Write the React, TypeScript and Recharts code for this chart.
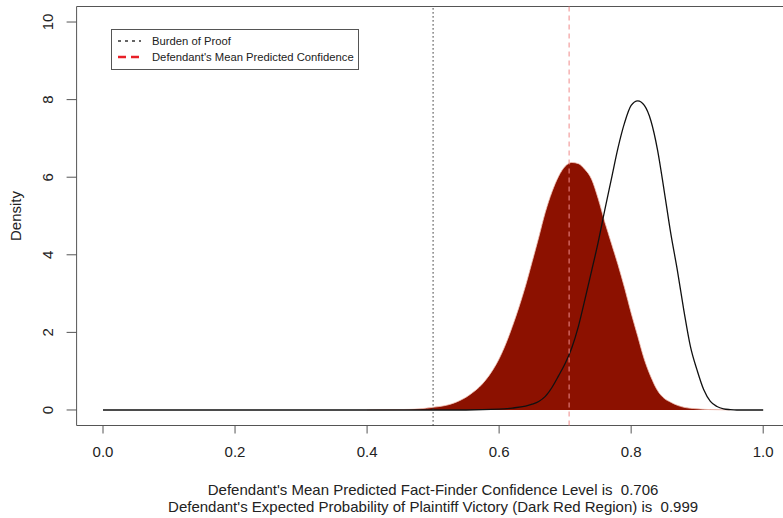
import { ComposedChart, Area, Line, XAxis, YAxis, ReferenceLine, ReferenceArea } from 'recharts'

// tick values
const xTicks = [0, 0.2, 0.4, 0.6, 0.8, 1.0]
const yTicks = [0, 2, 4, 6, 8, 10]

// black outline curve
const blackX = [
  0, 0.55, 0.6, 0.62, 0.64, 0.65, 0.66, 0.67, 0.68, 0.69, 0.7, 0.71, 0.72, 0.73, 0.74, 0.75, 0.76, 0.77, 0.78,
  0.79, 0.8, 0.81, 0.82, 0.83, 0.84, 0.85, 0.86, 0.87, 0.88, 0.89, 0.9, 0.91, 0.92, 0.93, 0.94, 0.95, 0.96, 1.0,
]
const blackY = [
  0, 0, 0.02, 0.05, 0.1, 0.15, 0.22, 0.35, 0.58, 0.88, 1.2, 1.6, 2.15, 2.85, 3.58, 4.32, 5.15, 5.95, 6.75,
  7.4, 7.85, 7.97, 7.85, 7.45, 6.7, 5.65, 4.55, 3.6, 2.55, 1.62, 1.02, 0.52, 0.22, 0.09, 0.03, 0.01, 0, 0,
]

// dark red filled density
const redX = [
  0.4, 0.45, 0.48, 0.5, 0.52, 0.53, 0.54, 0.55, 0.56, 0.57, 0.58, 0.59, 0.6, 0.61, 0.62, 0.63, 0.64, 0.65,
  0.66, 0.67, 0.68, 0.69, 0.7, 0.71, 0.72, 0.73, 0.74, 0.75, 0.76, 0.77, 0.78, 0.79, 0.8, 0.81, 0.82, 0.83,
  0.84, 0.85, 0.86, 0.87, 0.88, 0.9, 0.92, 0.95,
]
const redY = [
  0, 0.01, 0.03, 0.07, 0.12, 0.17, 0.24, 0.33, 0.45, 0.59, 0.78, 1.02, 1.32, 1.7, 2.15, 2.65, 3.2, 3.82,
  4.45, 5.1, 5.62, 6.02, 6.28, 6.38, 6.35, 6.2, 5.95, 5.45, 4.85, 4.3, 3.75, 3.15, 2.5, 1.9, 1.3, 0.85,
  0.5, 0.3, 0.2, 0.12, 0.07, 0.03, 0.01, 0,
]

const burdenOfProof = 0.5
const meanConfidence = 0.706
const plaintiffWinProb = 0.999

const blackData = blackX.map((x, i) => ({ x, y: blackY[i] }))
const redData = redX.map((x, i) => ({ x, y: redY[i] }))

const FONT = '"Liberation Sans", Arial, Helvetica, sans-serif'
const INK = '#222'
const FRAME = '#555'

const XTick = ({ x, y, payload }: any) => (
  <text x={x} y={y + 16.5} dy="0.35em" textAnchor="middle" fontSize={15} fill={INK} fontFamily={FONT}>
    {Number(payload.value).toFixed(1)}
  </text>
)

const YTick = ({ x, y, payload }: any) => (
  <text
    transform={`translate(${x - 16.6},${y}) rotate(-90)`}
    dy="0.35em"
    textAnchor="middle"
    fontSize={15}
    fill={INK}
    fontFamily={FONT}
  >
    {payload.value}
  </text>
)

const BottomText = (props: any) => {
  const vb = props.viewBox || {}
  const cx = vb.width ? vb.x + vb.width / 2 : 433
  return (
    <g fontSize={15} fill={INK} fontFamily={FONT} textAnchor="middle" style={{ whiteSpace: 'pre' }}>
      <text x={cx} y={490} dy="0.35em" xmlSpace="preserve">
        {`Defendant's Mean Predicted Fact-Finder Confidence Level is  ${meanConfidence.toFixed(3)}`}
      </text>
      <text x={cx} y={507} dy="0.35em" xmlSpace="preserve">
        {`Defendant's Expected Probability of Plaintiff Victory (Dark Red Region) is  ${plaintiffWinProb.toFixed(3)}`}
      </text>
    </g>
  )
}

const DensityLabel = () => (
  <text
    transform="translate(16,216) rotate(-90)"
    dy="0.35em"
    textAnchor="middle"
    fontSize={15}
    fill={INK}
    fontFamily={FONT}
  >
    Density
  </text>
)

function LegendBox() {
  return (
    <svg
      width={783}
      height={518}
      style={{ position: 'absolute', left: 0, top: 0, pointerEvents: 'none' }}
    >
      <rect x={111.5} y={29.5} width={247} height={40} fill="#fff" stroke={FRAME} strokeWidth={1} />
      <line x1={118} x2={141} y1={41} y2={41} stroke="#333" strokeWidth={1.5} strokeDasharray="3 4" />
      <line x1={118} x2={141} y1={57} y2={57} stroke="#e82028" strokeWidth={2.5} strokeDasharray="8 5" />
      <g fontSize={11.25} fill={INK} fontFamily={FONT}>
        <text x={152} y={41} dy="0.35em">Burden of Proof</text>
        <text x={152} y={57} dy="0.35em">Defendant's Mean Predicted Confidence</text>
      </g>
    </svg>
  )
}

export default function App() {
  return (
    <div
      style={{
        position: 'absolute',
        left: 0,
        top: 0,
        width: 783,
        height: 518,
        overflow: 'hidden',
        background: '#fff',
        fontFamily: FONT,
      }}
    >
      <ComposedChart
        width={800}
        height={518}
        margin={{ top: 6.5, right: 10.4, left: 6.6, bottom: 62.5 }}
      >
        <XAxis
          type="number"
          dataKey="x"
          domain={[-0.04, 1.04]}
          ticks={xTicks}
          allowDataOverflow
          axisLine={false}
          tickLine={{ stroke: FRAME }}
          tickSize={8}
          tick={<XTick />}
          height={30}
          interval={0}
          label={(p: any) => <BottomText {...p} />}
        />
        <YAxis
          type="number"
          dataKey="y"
          domain={[-0.4, 10.4]}
          ticks={yTicks}
          allowDataOverflow
          axisLine={false}
          tickLine={{ stroke: FRAME }}
          tickSize={10}
          tick={<YTick />}
          width={70}
          interval={0}
          label={() => <DensityLabel />}
        />
        <ReferenceArea
          x1={-0.04}
          x2={1.04}
          y1={-0.4}
          y2={10.4}
          fill="none"
          fillOpacity={0}
          stroke={FRAME}
          strokeWidth={1}
        />
        <Area
          data={redData}
          dataKey="y"
          type="monotone"
          baseValue={0}
          fill="#8c1100"
          fillOpacity={1}
          stroke="#f3c4b8"
          strokeWidth={0.8}
          isAnimationActive={false}
          dot={false}
          activeDot={false}
        />
        <Line
          data={blackData}
          dataKey="y"
          type="monotone"
          stroke="#111"
          strokeWidth={1.3}
          dot={false}
          activeDot={false}
          isAnimationActive={false}
        />
        <ReferenceLine x={burdenOfProof} stroke="#333" strokeWidth={1.2} strokeDasharray="1.2 2.8" />
        <ReferenceLine x={meanConfidence} stroke="#f08a8a" strokeWidth={1} strokeDasharray="5 4" />
      </ComposedChart>
      <LegendBox />
    </div>
  )
}
